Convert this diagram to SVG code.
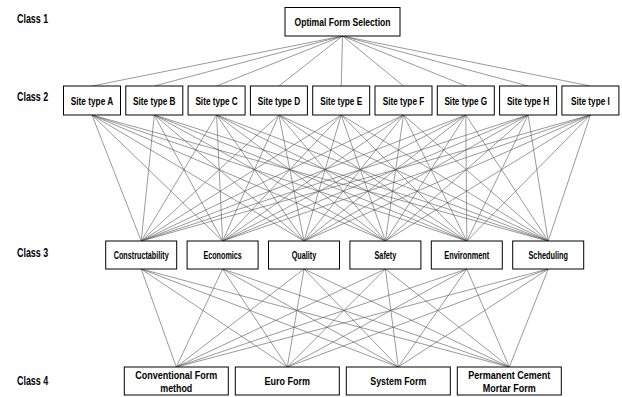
<svg xmlns="http://www.w3.org/2000/svg" width="622" height="397" viewBox="0 0 622 397">
<style>
text{font-family:"Liberation Sans",Arial,sans-serif;font-weight:bold;fill:#000}
.c{text-anchor:middle}
.lbl{font-size:12.5px}
.f10{font-size:10.5px}
.f9{font-size:10px}
.f11{font-size:11px}
rect{fill:#fff;stroke:#000;stroke-width:1}
#connectors line{stroke:#555;stroke-width:0.6}
</style>
<rect x="0" y="0" width="622" height="397" style="stroke:none;fill:#fff"/>
<g id="labels">
<text class="lbl" x="17" y="22.7" textLength="31.2" lengthAdjust="spacingAndGlyphs">Class 1</text>
<text class="lbl" x="17" y="100.7" textLength="31.2" lengthAdjust="spacingAndGlyphs">Class 2</text>
<text class="lbl" x="17" y="256.7" textLength="31.2" lengthAdjust="spacingAndGlyphs">Class 3</text>
<text class="lbl" x="17" y="385" textLength="31.2" lengthAdjust="spacingAndGlyphs">Class 4</text>
</g>
<g id="connectors">
<line x1="342.5" y1="36" x2="92" y2="86"/>
<line x1="342.5" y1="36" x2="154.3" y2="86"/>
<line x1="342.5" y1="36" x2="216.6" y2="86"/>
<line x1="342.5" y1="36" x2="278.9" y2="86"/>
<line x1="342.5" y1="36" x2="341.2" y2="86"/>
<line x1="342.5" y1="36" x2="403.5" y2="86"/>
<line x1="342.5" y1="36" x2="465.8" y2="86"/>
<line x1="342.5" y1="36" x2="528.1" y2="86"/>
<line x1="342.5" y1="36" x2="590.4" y2="86"/>
<line x1="92" y1="115" x2="141.2" y2="241"/><line x1="92" y1="115" x2="222.6" y2="241"/><line x1="92" y1="115" x2="304" y2="241"/><line x1="92" y1="115" x2="385.4" y2="241"/><line x1="92" y1="115" x2="466.8" y2="241"/><line x1="92" y1="115" x2="548.2" y2="241"/>
<line x1="154.3" y1="115" x2="141.2" y2="241"/><line x1="154.3" y1="115" x2="222.6" y2="241"/><line x1="154.3" y1="115" x2="304" y2="241"/><line x1="154.3" y1="115" x2="385.4" y2="241"/><line x1="154.3" y1="115" x2="466.8" y2="241"/><line x1="154.3" y1="115" x2="548.2" y2="241"/>
<line x1="216.6" y1="115" x2="141.2" y2="241"/><line x1="216.6" y1="115" x2="222.6" y2="241"/><line x1="216.6" y1="115" x2="304" y2="241"/><line x1="216.6" y1="115" x2="385.4" y2="241"/><line x1="216.6" y1="115" x2="466.8" y2="241"/><line x1="216.6" y1="115" x2="548.2" y2="241"/>
<line x1="278.9" y1="115" x2="141.2" y2="241"/><line x1="278.9" y1="115" x2="222.6" y2="241"/><line x1="278.9" y1="115" x2="304" y2="241"/><line x1="278.9" y1="115" x2="385.4" y2="241"/><line x1="278.9" y1="115" x2="466.8" y2="241"/><line x1="278.9" y1="115" x2="548.2" y2="241"/>
<line x1="341.2" y1="115" x2="141.2" y2="241"/><line x1="341.2" y1="115" x2="222.6" y2="241"/><line x1="341.2" y1="115" x2="304" y2="241"/><line x1="341.2" y1="115" x2="385.4" y2="241"/><line x1="341.2" y1="115" x2="466.8" y2="241"/><line x1="341.2" y1="115" x2="548.2" y2="241"/>
<line x1="403.5" y1="115" x2="141.2" y2="241"/><line x1="403.5" y1="115" x2="222.6" y2="241"/><line x1="403.5" y1="115" x2="304" y2="241"/><line x1="403.5" y1="115" x2="385.4" y2="241"/><line x1="403.5" y1="115" x2="466.8" y2="241"/><line x1="403.5" y1="115" x2="548.2" y2="241"/>
<line x1="465.8" y1="115" x2="141.2" y2="241"/><line x1="465.8" y1="115" x2="222.6" y2="241"/><line x1="465.8" y1="115" x2="304" y2="241"/><line x1="465.8" y1="115" x2="385.4" y2="241"/><line x1="465.8" y1="115" x2="466.8" y2="241"/><line x1="465.8" y1="115" x2="548.2" y2="241"/>
<line x1="528.1" y1="115" x2="141.2" y2="241"/><line x1="528.1" y1="115" x2="222.6" y2="241"/><line x1="528.1" y1="115" x2="304" y2="241"/><line x1="528.1" y1="115" x2="385.4" y2="241"/><line x1="528.1" y1="115" x2="466.8" y2="241"/><line x1="528.1" y1="115" x2="548.2" y2="241"/>
<line x1="590.4" y1="115" x2="141.2" y2="241"/><line x1="590.4" y1="115" x2="222.6" y2="241"/><line x1="590.4" y1="115" x2="304" y2="241"/><line x1="590.4" y1="115" x2="385.4" y2="241"/><line x1="590.4" y1="115" x2="466.8" y2="241"/><line x1="590.4" y1="115" x2="548.2" y2="241"/>
<line x1="141.2" y1="269" x2="176.3" y2="367"/><line x1="141.2" y1="269" x2="287.3" y2="367"/><line x1="141.2" y1="269" x2="398.3" y2="367"/><line x1="141.2" y1="269" x2="509.3" y2="367"/>
<line x1="222.6" y1="269" x2="176.3" y2="367"/><line x1="222.6" y1="269" x2="287.3" y2="367"/><line x1="222.6" y1="269" x2="398.3" y2="367"/><line x1="222.6" y1="269" x2="509.3" y2="367"/>
<line x1="304" y1="269" x2="176.3" y2="367"/><line x1="304" y1="269" x2="287.3" y2="367"/><line x1="304" y1="269" x2="398.3" y2="367"/><line x1="304" y1="269" x2="509.3" y2="367"/>
<line x1="385.4" y1="269" x2="176.3" y2="367"/><line x1="385.4" y1="269" x2="287.3" y2="367"/><line x1="385.4" y1="269" x2="398.3" y2="367"/><line x1="385.4" y1="269" x2="509.3" y2="367"/>
<line x1="466.8" y1="269" x2="176.3" y2="367"/><line x1="466.8" y1="269" x2="287.3" y2="367"/><line x1="466.8" y1="269" x2="398.3" y2="367"/><line x1="466.8" y1="269" x2="509.3" y2="367"/>
<line x1="548.2" y1="269" x2="176.3" y2="367"/><line x1="548.2" y1="269" x2="287.3" y2="367"/><line x1="548.2" y1="269" x2="398.3" y2="367"/><line x1="548.2" y1="269" x2="509.3" y2="367"/>
</g>
<g id="optimal"><rect x="285" y="7.5" width="115" height="28.5"/><text class="c f10" x="342.5" y="25.5" textLength="96" lengthAdjust="spacingAndGlyphs">Optimal Form Selection</text></g>
<g id="siteA"><rect x="63.5" y="86" width="57" height="29"/><text class="c f10" x="92" y="104.5" textLength="42.4" lengthAdjust="spacingAndGlyphs">Site type A</text></g>
<g id="siteB"><rect x="125.8" y="86" width="57" height="29"/><text class="c f10" x="154.3" y="104.5" textLength="42.4" lengthAdjust="spacingAndGlyphs">Site type B</text></g>
<g id="siteC"><rect x="188.1" y="86" width="57" height="29"/><text class="c f10" x="216.6" y="104.5" textLength="42.4" lengthAdjust="spacingAndGlyphs">Site type C</text></g>
<g id="siteD"><rect x="250.4" y="86" width="57" height="29"/><text class="c f10" x="278.9" y="104.5" textLength="42.4" lengthAdjust="spacingAndGlyphs">Site type D</text></g>
<g id="siteE"><rect x="312.7" y="86" width="57" height="29"/><text class="c f10" x="341.2" y="104.5" textLength="41.9" lengthAdjust="spacingAndGlyphs">Site type E</text></g>
<g id="siteF"><rect x="375" y="86" width="57" height="29"/><text class="c f10" x="403.5" y="104.5" textLength="41.5" lengthAdjust="spacingAndGlyphs">Site type F</text></g>
<g id="siteG"><rect x="437.3" y="86" width="57" height="29"/><text class="c f10" x="465.8" y="104.5" textLength="42.8" lengthAdjust="spacingAndGlyphs">Site type G</text></g>
<g id="siteH"><rect x="499.6" y="86" width="57" height="29"/><text class="c f10" x="528.1" y="104.5" textLength="42.4" lengthAdjust="spacingAndGlyphs">Site type H</text></g>
<g id="siteI"><rect x="561.9" y="86" width="57" height="29"/><text class="c f10" x="590.4" y="104.5" textLength="38.7" lengthAdjust="spacingAndGlyphs">Site type I</text></g>
<g id="constructability"><rect x="105.7" y="241" width="71" height="28"/><text class="c f9" x="141.2" y="258.6" textLength="55" lengthAdjust="spacingAndGlyphs">Constructability</text></g>
<g id="economics"><rect x="187.1" y="241" width="71" height="28"/><text class="c f9" x="222.6" y="258.6" textLength="38.4" lengthAdjust="spacingAndGlyphs">Economics</text></g>
<g id="quality"><rect x="268.5" y="241" width="71" height="28"/><text class="c f9" x="304" y="258.6" textLength="24.6" lengthAdjust="spacingAndGlyphs">Quality</text></g>
<g id="safety"><rect x="349.9" y="241" width="71" height="28"/><text class="c f9" x="385.4" y="258.6" textLength="21.7" lengthAdjust="spacingAndGlyphs">Safety</text></g>
<g id="environment"><rect x="431.3" y="241" width="71" height="28"/><text class="c f9" x="466.8" y="258.6" textLength="45" lengthAdjust="spacingAndGlyphs">Environment</text></g>
<g id="scheduling"><rect x="512.7" y="241" width="71" height="28"/><text class="c f9" x="548.2" y="258.6" textLength="39.5" lengthAdjust="spacingAndGlyphs">Scheduling</text></g>
<g id="conventional"><rect x="124.3" y="367" width="104" height="28"/><text class="c f11" x="176.3" y="379" textLength="82" lengthAdjust="spacingAndGlyphs">Conventional Form</text><text class="c f11" x="176.3" y="391.5" textLength="32" lengthAdjust="spacingAndGlyphs">method</text></g>
<g id="euro"><rect x="235.3" y="367" width="104" height="28"/><text class="c f11" x="287.3" y="385" textLength="45.5" lengthAdjust="spacingAndGlyphs">Euro Form</text></g>
<g id="system"><rect x="346.3" y="367" width="104" height="28"/><text class="c f11" x="398.3" y="385" textLength="56" lengthAdjust="spacingAndGlyphs">System Form</text></g>
<g id="permanent"><rect x="457.3" y="367" width="104" height="28"/><text class="c f11" x="509.3" y="379" textLength="82" lengthAdjust="spacingAndGlyphs">Permanent Cement</text><text class="c f11" x="509.3" y="391.5" textLength="53" lengthAdjust="spacingAndGlyphs">Mortar Form</text></g>
</svg>
